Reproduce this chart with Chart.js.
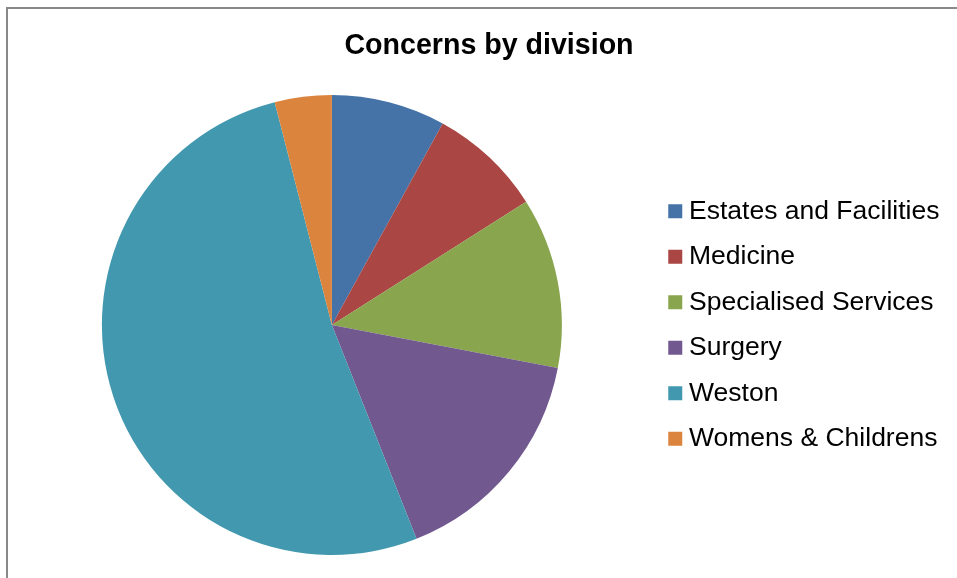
<!DOCTYPE html>
<html>
<head>
<meta charset="utf-8">
<script src="https://cdn.jsdelivr.net/npm/chart.js@4.4.1/dist/chart.umd.min.js"></script>
<style>
  html, body { margin: 0; padding: 0; background: #fff; overflow: hidden; }
  #frame {
    position: absolute; left: 6px; top: 7px;
    width: 980px; height: 600px;
    border-left: 2px solid #898989; border-top: 2px solid #898989;
  }
  #divisionChart { position: absolute; left: 0; top: 0; }
</style>
</head>
<body>
<div id="frame"><canvas id="divisionChart" width="962" height="569"></canvas></div>
<script>
// concerns raised per division
const divisions = ["Estates and Facilities", "Medicine", "Specialised Services", "Surgery", "Weston", "Womens & Childrens"];
const concerns = [2, 2, 3, 4, 13, 1];
const sliceColours = ['#4572A7', '#AA4643', '#89A54E', '#71588F', '#4198AF', '#DB843D'];

const fontFamily = '"Liberation Sans", Arial, Helvetica, sans-serif';

// centre the title across the whole canvas, not just the space left of the legend
const wideTitle = {
  id: 'wideTitle',
  afterLayout(chart) {
    if (chart.titleBlock) {
      chart.titleBlock.left = 0;
      chart.titleBlock.right = chart.width;
    }
  }
};

const baseLabels = Chart.overrides.doughnut.plugins.legend.labels.generateLabels;

let divisionChart = new Chart(document.getElementById('divisionChart').getContext('2d'), {
  type: 'pie',
  data: {
    labels: divisions,
    datasets: [{
      data: concerns,
      backgroundColor: sliceColours,
      borderWidth: 0,
      hoverOffset: 0
    }]
  },
  options: {
    responsive: false,
    animation: false,
    layout: { padding: { left: 0, right: 20.6, top: 0, bottom: 23 } },
    plugins: {
      title: {
        display: true,
        text: 'Concerns by division',
        color: '#000',
        font: { family: fontFamily, size: 28.6, weight: 'bold' },
        padding: { top: 19.6, bottom: 32.1 }
      },
      legend: {
        position: 'right',
        fullSize: false,
        labels: {
          color: '#000',
          font: { family: fontFamily, size: 26.5 },
          boxWidth: 1,
          boxHeight: 1,
          padding: 19,
          generateLabels(chart) {
            // thick stroke gives a 14px square sitting close to the text
            return baseLabels(chart).map(item => Object.assign(item, {
              lineWidth: 13,
              strokeStyle: item.fillStyle
            }));
          }
        }
      },
      tooltip: { enabled: false }
    }
  },
  plugins: [wideTitle]
});
</script>
</body>
</html>
